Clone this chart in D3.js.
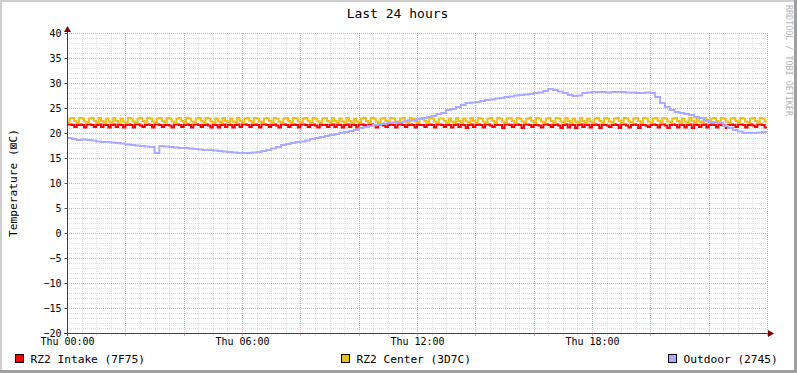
<!doctype html>
<html lang="en">
<head>
<meta charset="UTF-8">
<title>Last 24 hours</title>
<script src="https://cdn.jsdelivr.net/npm/d3@7"></script>
<style>
  html, body { margin: 0; padding: 0; background: #fff; }
  svg text { font-family: "DejaVu Sans Mono", monospace; }
</style>
</head>
<body>
<svg id="chart" width="797" height="373"></svg>
<script>
// --- data ---
const title = "Last 24 hours";
const yLabel = "Temperature (\u22A0C)";
const watermark = "RRDTOOL / TOBI OETIKER";
const timeLabels = ["Thu 00:00", "Thu 06:00", "Thu 12:00", "Thu 18:00"];
const labelMinutes = [0, 360, 720, 1080];
const yTicks = [40, 35, 30, 25, 20, 15, 10, 5, 0, -5, -10, -15, -20];
const seriesNames = ["RZ2 Intake (7F75)", "RZ2 Center (3D7C)", "Outdoor (2745)"];
const seriesColors = ["#ff0000", "#e8c020", "#aaaaff"];

// 5-minute samples, one row per hour
const intake = [
  21.7,21.7,21.6,21.2,21.6,21.7,21.6,21.1,21.7,21.7,21.6,21.2,
  21.6,21.7,21.2,21.7,21.6,21.1,21.6,21.7,21.2,21.7,21.6,21.1,
  21.6,21.7,21.6,21.1,21.7,21.7,21.5,21.2,21.6,21.7,21.6,21.1,
  21.7,21.7,21.6,21.2,21.6,21.6,21.5,21.1,21.7,21.7,21.6,21.2,
  21.6,21.7,21.6,21.1,21.7,21.7,21.6,21.2,21.6,21.7,21.5,21.1,
  21.7,21.6,21.1,21.6,21.7,21.2,21.7,21.6,21.1,21.6,21.7,21.2,
  21.7,21.7,21.6,21.2,21.6,21.7,21.6,21.1,21.7,21.7,21.6,21.2,
  21.6,21.7,21.5,21.1,21.7,21.7,21.6,21.2,21.6,21.7,21.6,21.1,
  21.7,21.7,21.6,21.2,21.6,21.7,21.5,21.1,21.7,21.6,21.6,21.2,
  21.6,21.7,21.2,21.7,21.6,21.1,21.6,21.7,21.2,21.7,21.6,21.1,
  21.7,21.7,21.6,21.2,21.6,21.7,21.6,21.1,21.7,21.7,21.5,21.2,
  21.6,21.7,21.6,21.1,21.7,21.7,21.6,21.2,21.6,21.7,21.6,21.1,
  21.7,21.6,21.6,21.2,21.6,21.7,21.6,21.1,21.7,21.7,21.6,21.2,
  21.7,21.6,21.1,21.6,21.7,21.2,21.7,21.6,21.0,21.6,21.7,21.2,
  21.6,21.7,21.6,21.1,21.7,21.7,21.5,21.2,21.6,21.6,21.6,21.0,
  21.7,21.7,21.6,21.2,21.6,21.7,21.6,21.0,21.7,21.7,21.6,21.2,
  21.6,21.6,21.5,21.1,21.7,21.7,21.6,21.2,21.6,21.7,21.5,21.0,
  21.6,21.7,21.1,21.7,21.6,21.0,21.6,21.7,21.2,21.7,21.6,21.1,
  21.6,21.7,21.6,21.0,21.7,21.6,21.5,21.2,21.6,21.7,21.6,21.0,
  21.7,21.7,21.5,21.1,21.6,21.7,21.6,21.0,21.7,21.6,21.5,21.2,
  21.6,21.7,21.6,21.1,21.7,21.7,21.5,21.0,21.6,21.7,21.6,21.1,
  21.7,21.6,21.1,21.6,21.7,21.0,21.7,21.6,21.2,21.6,21.7,21.1,
  21.6,21.7,21.6,21.1,21.7,21.6,21.5,21.0,21.6,21.7,21.6,21.2,
  21.7,21.7,21.6,21.1,21.6,21.7,21.5,21.2,21.7,21.7,21.6,21.1
];
const center = [
  22.1,22.9,23.0,22.4,22.0,23.0,22.9,22.3,22.1,22.9,23.0,22.4,
  22.1,23.0,22.4,22.0,22.9,22.3,22.1,23.0,22.4,22.0,22.9,22.3,
  22.0,23.0,22.9,22.3,22.1,22.9,23.0,22.4,22.0,23.0,22.9,22.3,
  22.1,22.9,23.0,22.4,22.1,23.0,22.9,22.3,22.0,22.9,23.0,22.4,
  22.0,23.0,22.9,22.3,22.1,22.9,23.0,22.4,22.1,23.0,22.9,22.3,
  22.0,22.9,22.3,22.1,23.0,22.4,22.0,22.9,22.3,22.1,23.0,22.4,
  22.1,22.9,23.0,22.4,22.0,23.0,22.9,22.3,22.1,22.9,23.0,22.4,
  22.0,23.0,22.9,22.3,22.1,22.9,23.0,22.4,22.0,23.0,22.9,22.3,
  22.1,22.9,23.0,22.4,22.0,23.0,22.9,22.3,22.1,22.9,23.0,22.4,
  22.1,23.0,22.4,22.0,22.9,22.3,22.1,23.0,22.4,22.0,22.9,22.3,
  22.1,22.9,23.0,22.4,22.0,23.0,22.9,22.3,22.1,22.9,23.0,22.4,
  22.0,23.0,22.9,22.3,22.1,22.9,23.0,22.4,22.0,23.0,22.9,22.3,
  22.1,22.9,23.0,22.4,22.0,23.0,22.9,22.3,22.1,22.9,22.9,22.4,
  22.0,22.9,22.3,22.1,23.0,22.4,22.0,22.9,22.3,22.1,23.0,22.4,
  22.0,23.0,22.9,22.3,22.1,22.9,23.0,22.4,22.0,23.0,22.9,22.3,
  22.1,22.9,23.0,22.4,22.0,23.0,22.9,22.3,22.1,22.9,23.0,22.4,
  22.0,23.0,22.9,22.3,22.1,22.9,23.0,22.4,22.0,23.0,22.9,22.3,
  22.1,23.0,22.4,22.0,22.9,22.3,22.1,23.0,22.4,22.0,22.9,22.3,
  22.1,22.9,23.0,22.4,22.0,23.0,22.9,22.3,22.1,22.9,23.0,22.4,
  22.0,23.0,22.9,22.3,22.1,22.9,23.0,22.4,22.0,23.0,22.9,22.3,
  22.1,22.9,23.0,22.4,22.0,23.0,22.9,22.3,22.1,22.9,23.0,22.4,
  22.0,22.9,22.3,22.1,23.0,22.4,22.0,22.9,22.3,22.1,23.0,22.4,
  22.1,22.9,23.0,22.4,22.0,23.0,22.9,22.3,22.1,22.9,23.0,22.4,
  22.0,23.0,22.9,22.3,22.1,22.9,23.0,22.4,22.0,23.0,22.9,22.3
];
// 10-minute samples, one row per hour
const outdoor = [
  19.0,18.8,18.6,18.7,18.6,18.5,
  18.3,18.2,18.2,18.1,18.0,17.9,
  17.7,17.6,17.5,17.4,17.3,17.2,
  16.0,17.4,17.3,17.2,17.1,17.0,
  17.0,16.9,16.8,16.7,16.6,16.6,
  16.5,16.4,16.3,16.2,16.1,16.0,
  16.0,16.0,16.1,16.2,16.4,16.6,
  16.9,17.2,17.6,17.8,18.0,18.2,
  18.3,18.5,18.8,19.0,19.2,19.4,
  19.6,19.8,20.0,20.2,20.4,20.6,
  21.0,21.2,21.4,21.6,21.8,21.9,
  22.0,22.1,22.2,22.3,22.5,22.6,
  22.8,23.0,23.2,23.4,23.8,24.0,
  24.6,24.8,25.2,25.6,26.0,26.1,
  26.2,26.4,26.6,26.7,26.9,27.0,
  27.2,27.3,27.5,27.6,27.7,27.8,
  28.0,28.1,28.4,28.8,28.6,28.3,
  28.0,27.6,27.4,27.5,28.0,28.1,
  28.2,28.2,28.2,28.1,28.2,28.2,
  28.2,28.1,28.1,28.0,28.0,28.1,
  28.0,27.2,26.0,25.2,24.6,24.2,
  24.0,23.8,23.6,23.2,23.0,22.6,
  22.2,22.1,22.0,21.4,21.0,20.6,
  20.3,20.0,20.0,20.0,20.1,20.2
];

// --- layout ---
const W = 797, H = 373;
const plotL = 67, plotR = 767, plotT = 33, plotB = 333;
const font = '"DejaVu Sans Mono", monospace';
const minorColor = "rgba(140,140,140,0.28)";
const majorColor = "rgba(200,60,60,0.42)";

const svg = d3.select("#chart");
const x = d3.scaleLinear().domain([0, 1440]).range([plotL, plotR]);
const y = d3.scaleLinear().domain([-20, 40]).range([plotB, plotT]);
const px = v => Math.round(v) + 0.5;

svg.append("rect").attr("width", W).attr("height", H).attr("fill", "#fff");

// grid
const g = svg.append("g");
const vMinor = d3.range(0, 1441, 30).filter(m => m % 120 !== 0);
const vMajor = d3.range(0, 1441, 120);
const hMinor = d3.range(-20, 41, 1).filter(v => v % 5 !== 0);
const hMajor = d3.range(-20, 41, 5);

g.append("g").selectAll("line").data(vMinor).join("line")
  .attr("x1", d => px(x(d))).attr("x2", d => px(x(d)))
  .attr("y1", plotT).attr("y2", plotB)
  .attr("stroke", minorColor).attr("stroke-dasharray", "1,1");
g.append("g").selectAll("line").data(hMinor).join("line")
  .attr("x1", plotL).attr("x2", plotR)
  .attr("y1", d => px(y(d))).attr("y2", d => px(y(d)))
  .attr("stroke", minorColor).attr("stroke-dasharray", "1,1");
g.append("g").selectAll("line").data(vMajor).join("line")
  .attr("x1", d => px(x(d))).attr("x2", d => px(x(d)))
  .attr("y1", plotT).attr("y2", plotB)
  .attr("stroke", majorColor).attr("stroke-dasharray", "1,1");
g.append("g").selectAll("line").data(hMajor).join("line")
  .attr("x1", plotL).attr("x2", plotR)
  .attr("y1", d => px(y(d))).attr("y2", d => px(y(d)))
  .attr("stroke", majorColor).attr("stroke-dasharray", "1,1");

// lines
function series(values, step) {
  const pts = values.map((v, i) => [i * step, v]);
  pts.push([values.length * step, values[values.length - 1]]);
  return pts;
}
const line = d3.line().x(d => x(d[0])).y(d => y(d[1])).curve(d3.curveStepAfter);
const plots = [series(intake, 5), series(center, 5), series(outdoor, 10)];
svg.append("g").selectAll("path").data(plots).join("path")
  .attr("d", line)
  .attr("fill", "none")
  .attr("stroke", (d, i) => seriesColors[i])
  .attr("stroke-width", 2);

// axes
const yAxis = d3.axisLeft(y).tickValues(yTicks).tickSize(3).tickPadding(3).tickSizeOuter(0);
const ya = svg.append("g").attr("transform", `translate(${plotL + 0.5},0)`).call(yAxis);
ya.select(".domain").remove();
ya.selectAll(".tick line").attr("stroke", "#555");
ya.selectAll("text").attr("font-family", font).attr("font-size", 10).attr("fill", "#000");

const xAxis = d3.axisBottom(x).tickValues(labelMinutes)
  .tickFormat((d, i) => timeLabels[i]).tickSize(0).tickPadding(4);
const xa = svg.append("g").attr("transform", `translate(0,${plotB + 0.5})`).call(xAxis);
xa.select(".domain").remove();
xa.selectAll("text").attr("font-family", font).attr("font-size", 10).attr("fill", "#000");

// x ticks under axis
svg.append("g").selectAll("line").data(d3.range(0, 1441, 30)).join("line")
  .attr("x1", d => px(x(d))).attr("x2", d => px(x(d)))
  .attr("y1", plotB + 1).attr("y2", plotB + 3)
  .attr("stroke", d => d % 120 === 0 ? majorColor : minorColor);

// axis lines + arrows
svg.append("line").attr("x1", plotL - 3).attr("x2", plotR + 1)
  .attr("y1", plotB + 0.5).attr("y2", plotB + 0.5).attr("stroke", "#4a4040");
svg.append("line").attr("x1", plotL + 0.5).attr("x2", plotL + 0.5)
  .attr("y1", plotB + 3).attr("y2", plotT - 1).attr("stroke", "#4a4040");
svg.append("path")
  .attr("d", `M${plotR + 1},${plotB - 3}L${plotR + 7},${plotB + 0.5}L${plotR + 1},${plotB + 4}Z`)
  .attr("fill", "#7f0000");
svg.append("path")
  .attr("d", `M${plotL - 3},${plotT - 1}L${plotL + 0.5},${plotT - 7}L${plotL + 4},${plotT - 1}Z`)
  .attr("fill", "#7f0000");

// title, labels
svg.append("text").attr("x", 397.5).attr("y", 18).attr("text-anchor", "middle")
  .attr("font-size", 13).attr("font-family", font).text(title);
svg.append("text").attr("transform", "translate(17,183) rotate(-90)")
  .attr("text-anchor", "middle").attr("font-size", 11.2).attr("font-family", font).text(yLabel);
svg.append("text").attr("transform", "translate(786,5) rotate(90)")
  .attr("font-size", 8.4).attr("fill", "#b4b4b4").attr("font-family", font).text(watermark);

// legend
const legendX = [15.5, 341.5, 668.5];
const lg = svg.append("g").selectAll("g").data(seriesNames).join("g")
  .attr("transform", (d, i) => `translate(${legendX[i]},354.5)`);
lg.append("rect").attr("width", 8).attr("height", 8)
  .attr("fill", (d, i) => seriesColors[i]).attr("stroke", "#000");
lg.append("text").attr("x", 15).attr("y", 8).attr("font-size", 11.2)
  .attr("font-family", font).text(d => d);

// frame shading
svg.append("rect").attr("x", 0).attr("y", 0).attr("width", W).attr("height", 2).attr("fill", "#cfcfcf");
svg.append("rect").attr("x", 0).attr("y", 0).attr("width", 2).attr("height", H).attr("fill", "#cfcfcf");
svg.append("rect").attr("x", W - 3).attr("y", 0).attr("width", 3).attr("height", H).attr("fill", "#9f9f9f");
svg.append("rect").attr("x", 0).attr("y", H - 3).attr("width", W).attr("height", 3).attr("fill", "#9f9f9f");
</script>
</body>
</html>
